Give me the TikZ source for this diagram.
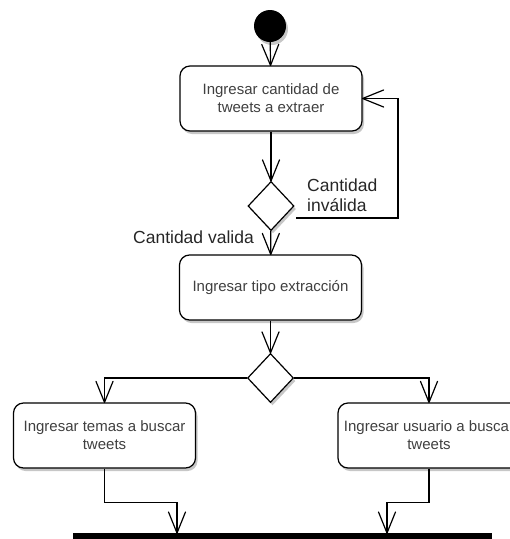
\documentclass[tikz,border=0pt]{standalone}
\usepackage{fontspec}
\setmainfont{Liberation Sans}
\usetikzlibrary{arrows.meta,shapes.geometric,shadows,calc}

% open "V" arrow head: two straight arms meeting at the tip
\pgfdeclarearrow{
  name = OpenV,
  parameters = {\the\pgfarrowlength,\the\pgfarrowwidth},
  setup code = {
    \pgfarrowssettipend{0pt}
    \pgfarrowssetlineend{0pt}
    \pgfarrowssetbackend{-\pgfarrowlength}
    \pgfarrowssetvisualbackend{-\pgfarrowlength}
    \pgfarrowshullpoint{0pt}{0pt}
    \pgfarrowshullpoint{-\pgfarrowlength}{.5\pgfarrowwidth}
    \pgfarrowshullpoint{-\pgfarrowlength}{-.5\pgfarrowwidth}
    \pgfarrowssavethe\pgfarrowlength
    \pgfarrowssavethe\pgfarrowwidth
  },
  drawing code = {
    \pgfsetroundjoin
    \pgfsetroundcap
    \pgfpathmoveto{\pgfqpoint{-\pgfarrowlength}{.5\pgfarrowwidth}}
    \pgfpathlineto{\pgfpointorigin}
    \pgfpathlineto{\pgfqpoint{-\pgfarrowlength}{-.5\pgfarrowwidth}}
    \pgfusepathqstroke
  },
  defaults = {length=20pt, width=17pt}
}

\begin{document}
\begin{tikzpicture}[x=1pt,y=-1pt,
  softshadow/.style={drop shadow={shadow xshift=2pt,shadow yshift=-3pt,opacity=0.22,fill=black}},
  flow/.style={line width=1.2pt,-{OpenV[length=21pt,width=17pt]}},
  actbox/.style={draw,line width=1.2pt,rounded corners=10pt,fill=white,
    minimum width=182pt,minimum height=65pt,inner sep=0pt,align=center,
    text=black!75,font=\fontsize{15}{18}\selectfont,softshadow},
  decision/.style={draw,diamond,line width=1.2pt,fill=white,inner sep=0pt,
    minimum width=46pt,minimum height=49pt,softshadow},
  lbl/.style={text=black!85,font=\fontsize{17.5}{20}\selectfont,inner sep=0pt}
]
\useasboundingbox (0,0) rectangle (510,539);
\clip (0,0) rectangle (510,539);

% nodes
\node[circle,fill=black,minimum size=32pt,inner sep=0pt,softshadow] (start) at (270,26) {};
\node[actbox] (b1) at (271,98.5) {Ingresar cantidad de\\tweets a extraer};
\node[decision] (d1) at (271,206) {};
\node[actbox] (b2) at (270.5,287.5) {Ingresar tipo extracción};
\node[decision] (d2) at (270.5,378) {};
\node[actbox] (b3) at (104.5,435.5) {Ingresar temas a buscar\\tweets};
\node[actbox] (b4) at (429,435.5) {Ingresar usuario a buscar\\tweets};
\node[fill=black,minimum width=419pt,minimum height=14pt,inner sep=0pt,anchor=north] (bar) at (282.5,533) {};

% guard labels
\node[lbl,anchor=east] (lvalid) at (254,237) {Cantidad valida};
\node[lbl,anchor=west,align=left] (linvalid) at (307,195) {Cantidad\\inválida};

% connectors
\coordinate (loopout) at (296,218);
\draw[flow] (start) -- (b1);
\draw[flow] (b1) -- (d1);
\draw[flow] (d1) -- (b2);
\draw[flow] (loopout) -- ++(102,0) |- (b1.east);
\draw[flow] (b2) -- (d2);
\draw[flow] (d2.west) -| (b3.north);
\draw[flow] (d2.east) -| (b4.north);
\draw[flow] (b3.south) -- ++(0,34) -| ([xshift=-105.5pt]bar.north);
\draw[flow] (b4.south) -- ++(0,34) -| ([xshift=104.5pt]bar.north);
\end{tikzpicture}
\end{document}
